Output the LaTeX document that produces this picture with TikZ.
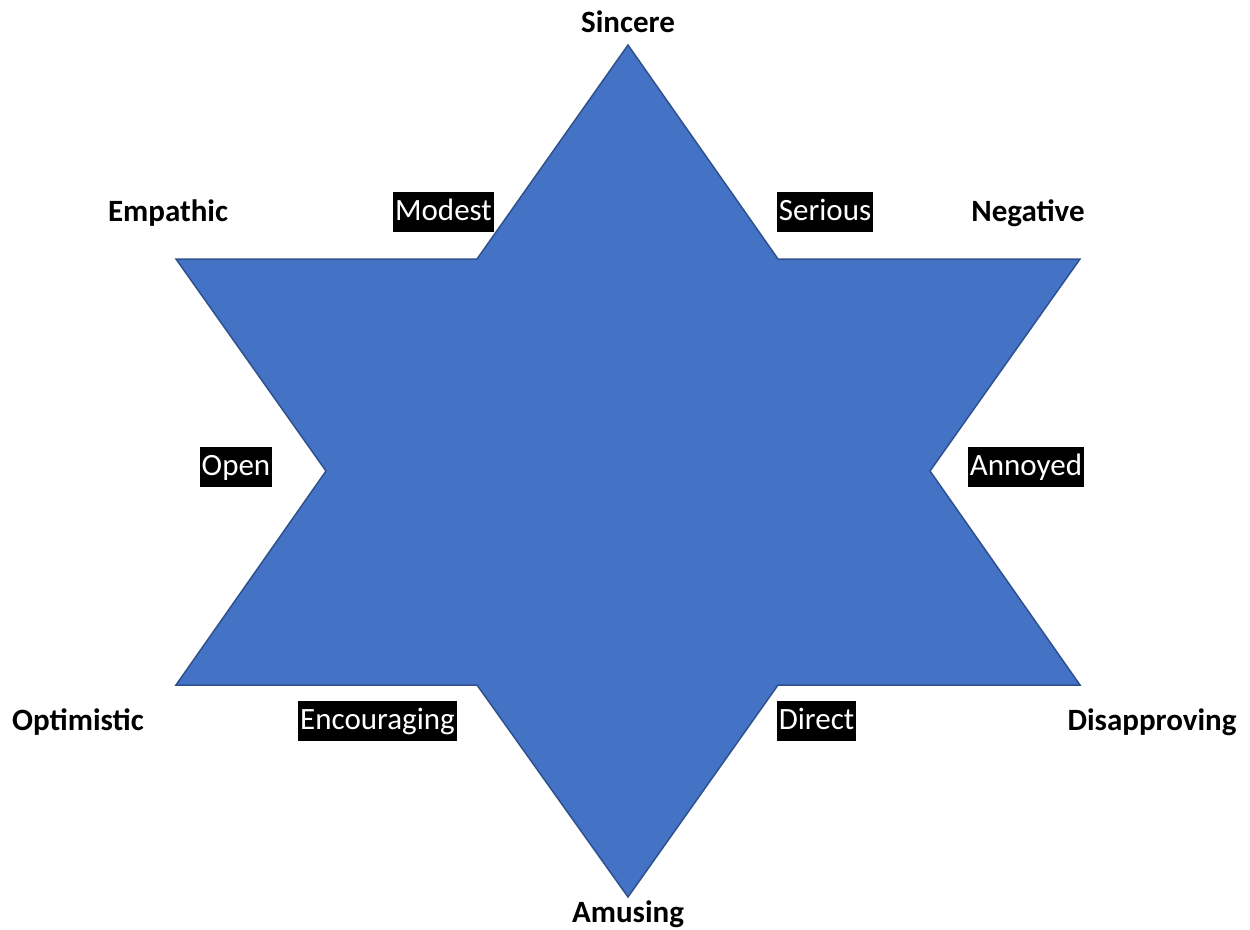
\documentclass[tikz,border=0pt]{standalone}
\usepackage{fontspec}
\setmainfont{Carlito}
\definecolor{starfill}{HTML}{4472C4}
\definecolor{starline}{HTML}{2F528F}
\begin{document}
\begin{tikzpicture}[x=1pt,y=-1pt,
  pole/.style={font=\fontsize{31}{36}\selectfont\bfseries, text=black, inner sep=0pt},
  tag/.style={font=\fontsize{31}{36}\selectfont, text=white, fill=black, inner xsep=2pt, inner ysep=0pt, text height=24pt, text depth=8pt, minimum height=40pt}]
\useasboundingbox (0,0) rectangle (1250,929);
\fill[white] (0,0) rectangle (1250,929);
\draw[fill=starfill, draw=starline, line width=1.5pt, line join=miter]
  (628,45) -- (778,259) -- (1080,259) -- (930,471) -- (1080,685) -- (778,685)
  -- (628,897) -- (477,685) -- (176,685) -- (326,471) -- (176,259) -- (477,259) -- cycle;
\node[pole] (sincere) at (628,22) {Sincere};
\node[pole] (empathic) at (168,213) {Empathic};
\node[pole] (negative) at (1028,213) {Negative};
\node[pole] (optimistic) at (78,722) {Optimistic};
\node[pole] (disapproving) at (1152,722) {Disapproving};
\node[pole, anchor=base] (amusing) at (628,922) {Amusing};
\node[tag] (modest) at (443.5,212) {Modest};
\node[tag] (serious) at (825,212) {Serious};
\node[tag] (open) at (236,467) {Open};
\node[tag] (annoyed) at (1026,467) {Annoyed};
\node[tag] (encouraging) at (377.5,721) {Encouraging};
\node[tag] (direct) at (816.5,721) {Direct};
\end{tikzpicture}
\end{document}
